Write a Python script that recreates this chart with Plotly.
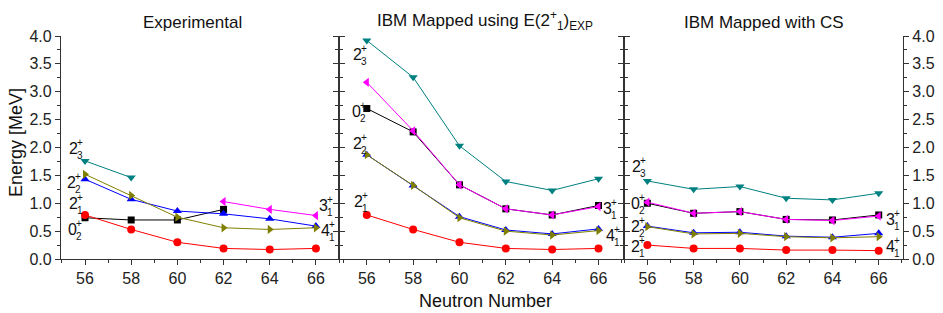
import plotly.graph_objects as go

neutrons = [56, 58, 60, 62, 64, 66]

# Experimental
exp_21 = [0.79, 0.53, 0.30, 0.19, 0.17, 0.19]
exp_02 = [0.74, 0.70, 0.70, 0.89, None, None]
exp_22 = [1.43, 1.07, 0.86, 0.81, 0.72, 0.59]
exp_41 = [1.52, 1.14, 0.75, 0.56, 0.53, 0.56]
exp_23 = [1.76, 1.46, None, None, None, None]
exp_31 = [None, None, None, 1.03, 0.89, 0.78]

# IBM mapped using E(2+1)EXP
ibm_21 = [0.79, 0.53, 0.30, 0.19, 0.17, 0.19]
ibm_02 = [2.70, 2.28, 1.33, 0.90, 0.79, 0.96]
ibm_22 = [1.87, 1.32, 0.76, 0.52, 0.45, 0.54]
ibm_41 = [1.87, 1.32, 0.74, 0.50, 0.43, 0.51]
ibm_23 = [3.92, 3.26, 2.03, 1.39, 1.23, 1.44]
ibm_31 = [3.17, 2.30, 1.33, 0.90, 0.79, 0.94]

# IBM mapped with CS
cs_21 = [0.25, 0.19, 0.19, 0.16, 0.16, 0.15]
cs_02 = [1.00, 0.82, 0.85, 0.71, 0.70, 0.79]
cs_22 = [0.59, 0.47, 0.48, 0.41, 0.39, 0.46]
cs_41 = [0.58, 0.45, 0.46, 0.40, 0.38, 0.40]
cs_23 = [1.40, 1.25, 1.30, 1.09, 1.06, 1.18]
cs_31 = [1.02, 0.82, 0.85, 0.71, 0.69, 0.77]

panel_titles = ["Experimental",
                "IBM Mapped using E(2<sup>+</sup><sub>1</sub>)<sub>EXP</sub>",
                "IBM Mapped with CS"]
x_ticks = [56, 58, 60, 62, 64, 66]

FONT = "Arial, Liberation Sans, sans-serif"
W, H = 943, 313
L, R, T, B = 61, 40, 36, 54
PW = W - L - R
PH = H - T - B

series_style = [
    ("0_2", "#000000", "square", 7),
    ("2_1", "#ff0000", "circle", 8),
    ("2_2", "#0000ff", "triangle-up", 8),
    ("4_1", "#808000", "triangle-right", 8),
    ("2_3", "#008080", "triangle-down", 8),
    ("3_1", "#ff00ff", "triangle-left", 8),
]
panels = [
    {"0_2": exp_02, "2_1": exp_21, "2_2": exp_22, "4_1": exp_41, "2_3": exp_23, "3_1": exp_31},
    {"0_2": ibm_02, "2_1": ibm_21, "2_2": ibm_22, "4_1": ibm_41, "2_3": ibm_23, "3_1": ibm_31},
    {"0_2": cs_02, "2_1": cs_21, "2_2": cs_22, "4_1": cs_41, "2_3": cs_23, "3_1": cs_31},
]

fig = go.Figure()
for i, pdata in enumerate(panels):
    ax = "" if i == 0 else str(i + 1)
    for key, col, sym, sz in series_style:
        fig.add_trace(go.Scatter(
            x=neutrons, y=pdata[key], mode="lines+markers",
            line=dict(color=col, width=1),
            marker=dict(symbol=sym, size=sz, color=col, line=dict(width=0)),
            connectgaps=False, showlegend=False,
            xaxis="x" + ax, yaxis="y" + ax))

def px2paper(px, py):
    return (px - L) / PW, (H - B - py) / PH

bounds = [(61, 339), (339, 624), (624, 903)]
ranges = [[54.96, 67.0], [54.8, 67.1], [54.99, 67.05]]
ann = []
lay = {}
for i in range(3):
    ax = "" if i == 0 else str(i + 1)
    d0 = (bounds[i][0] - L) / PW
    d1 = (bounds[i][1] - L) / PW
    lay["xaxis" + ax] = dict(
        domain=[d0, d1], range=ranges[i], tickvals=x_ticks,
        showline=True, linecolor="#333", linewidth=1.2,
        ticks="outside", ticklen=5, tickcolor="#333",
        minor=dict(dtick=1, ticks="outside", ticklen=3, tickcolor="#333"),
        showgrid=False, zeroline=False, automargin=False,
        tickfont=dict(family=FONT, size=16, color="#222"),
        anchor="y" + ax)
    lay["yaxis" + ax] = dict(
        domain=[0, 1], range=[0, 4.0], dtick=0.5, tickformat=".1f",
        showline=True, linecolor="#333", linewidth=1.2, mirror="ticks",
        ticks="outside", ticklen=5, tickcolor="#333",
        minor=dict(dtick=0.25, ticks="outside", ticklen=3, tickcolor="#333"),
        showgrid=False, zeroline=False, automargin=False,
        showticklabels=(i != 1),
        side="right" if i == 2 else "left",
        tickfont=dict(family=FONT, size=16, color="#222"),
        anchor="x" + ax)

title_px = [(192, 22), (485, 20), (764, 22)]
for i, t in enumerate(panel_titles):
    x, y = px2paper(*title_px[i])
    ann.append(dict(text=t, x=x, y=y, xref="paper", yref="paper", showarrow=False,
                    font=dict(family=FONT, size=17, color="#111"),
                    xanchor="center", yanchor="middle"))

x, y = px2paper(485, 301)
ann.append(dict(text="Neutron Number", x=x, y=y, xref="paper", yref="paper",
                showarrow=False, font=dict(family=FONT, size=18, color="#111"),
                xanchor="center", yanchor="middle"))
x, y = px2paper(16, 143)
ann.append(dict(text="Energy [MeV]", x=x, y=y, xref="paper", yref="paper",
                showarrow=False, textangle=-90, font=dict(family=FONT, size=18, color="#111"),
                xanchor="center", yanchor="middle"))

# level labels: (main, sub, px, py)
level_labels = [
    ("2", "3", 73, 148), ("2", "2", 71, 182), ("2", "1", 73, 203), ("0", "2", 72, 229),
    ("3", "1", 323, 205), ("4", "1", 325, 230),
    ("2", "3", 357, 54), ("0", "2", 356, 111), ("2", "2", 357, 143), ("2", "1", 358, 202),
    ("3", "1", 607, 208), ("4", "1", 610, 235),
    ("2", "3", 636, 167), ("0", "2", 635, 203), ("2", "2", 635, 226), ("2", "1", 635, 246),
    ("3", "1", 890, 219), ("4", "1", 890, 246),
]
for main, sub, pxx, pyy in level_labels:
    x, y = px2paper(pxx, pyy)
    ann.append(dict(text=main, x=x, y=y, xref="paper", yref="paper", showarrow=False,
                    font=dict(family=FONT, size=16, color="#111"),
                    xanchor="center", yanchor="middle"))
    ann.append(dict(text="+", x=x, y=y, xref="paper", yref="paper", showarrow=False,
                    xshift=6.5, yshift=6, font=dict(family=FONT, size=10, color="#111"),
                    xanchor="center", yanchor="middle"))
    ann.append(dict(text=sub, x=x, y=y, xref="paper", yref="paper", showarrow=False,
                    xshift=6.5, yshift=-7, font=dict(family=FONT, size=10, color="#111"),
                    xanchor="center", yanchor="middle"))

fig.update_layout(
    width=W, height=H,
    margin=dict(l=L, r=R, t=T, b=B),
    paper_bgcolor="white", plot_bgcolor="white",
    annotations=ann, showlegend=False,
    **lay)

fig.write_html("out.html", config={"displayModeBar": False},
               post_script="document.body.style.margin='0';document.body.style.overflow='hidden';")
